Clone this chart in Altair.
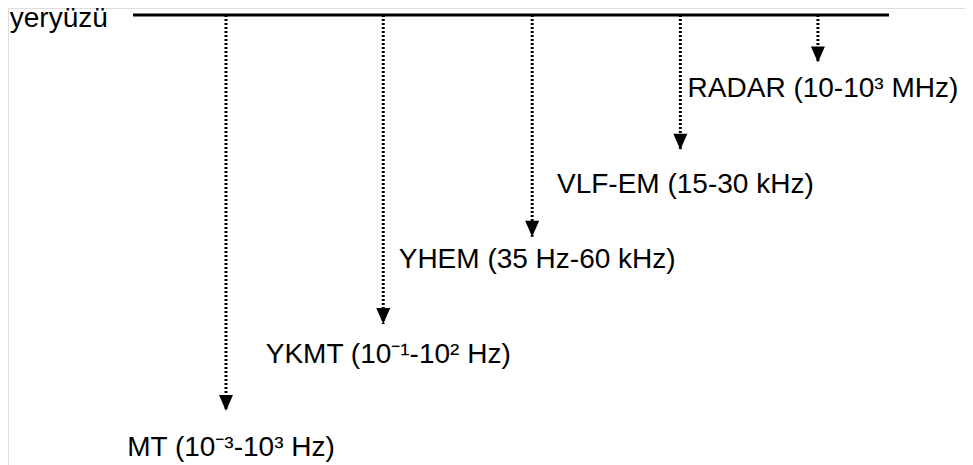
import altair as alt
import pandas as pd

# Methods shown below the ground surface
methods = ["MT", "YKMT", "YHEM", "VLF-EM", "RADAR"]
freq_ranges = ["(10⁻³-10³ Hz)", "(10⁻¹-10² Hz)", "(35 Hz-60 kHz)", "(15-30 kHz)", "(10-10³ MHz)"]
# horizontal position along the surface profile (0-100 %)
positions = [12.3, 33.1, 52.8, 72.4, 90.6]
# relative penetration depth (arrow tip), surface = 0
depths = [5.0, 3.9, 2.8, 1.7, 0.6]
# depth at which each label's baseline sits
label_depths = [5.57, 4.39, 3.19, 2.25, 1.035]

surface_label = "yeryüzü"
surface_extent = [0, 100]

df = pd.DataFrame({
    "method": methods,
    "label": [f"{m} {r}" for m, r in zip(methods, freq_ranges)],
    "pos": positions,
    "depth": depths,
    "label_depth": label_depths,
    "top": [0] * len(methods),
})
surf = pd.DataFrame({"x0": [surface_extent[0]], "x1": [surface_extent[1]], "d": [0],
                     "name": [surface_label], "lx": [-16.3]})

FONT = "Liberation Sans"
FS = 28
xs = alt.Scale(domain=[0, 100], range=[125, 881])
ys = alt.Scale(domain=[0, 5], range=[7, 403])

surface = alt.Chart(surf).mark_rule(color="black", strokeWidth=3).encode(
    x=alt.X("x0:Q", scale=xs, axis=None),
    x2="x1:Q",
    y=alt.Y("d:Q", scale=ys, axis=None),
)
surface_text = alt.Chart(surf).mark_text(
    align="left", baseline="alphabetic", font=FONT, fontSize=FS, color="black", dy=12
).encode(
    x=alt.X("lx:Q", scale=xs, axis=None),
    y=alt.Y("d:Q", scale=ys, axis=None),
    text="name:N",
)

shafts = alt.Chart(df).mark_rule(color="black", strokeWidth=3, strokeDash=[2, 2]).encode(
    x=alt.X("pos:Q", scale=xs, axis=None),
    y=alt.Y("top:Q", scale=ys, axis=None),
    y2="depth:Q",
)
heads = alt.Chart(df).mark_point(
    shape="M-0.875,-1L0.875,-1L0,1Z", size=256, filled=True, color="black", opacity=1, yOffset=-8
).encode(
    x=alt.X("pos:Q", scale=xs, axis=None),
    y=alt.Y("depth:Q", scale=ys, axis=None),
)
labels = alt.Chart(df).mark_text(
    align="center", baseline="alphabetic", font=FONT, fontSize=FS, color="black", dx=5
).encode(
    x=alt.X("pos:Q", scale=xs, axis=None),
    y=alt.Y("label_depth:Q", scale=ys, axis=None),
    text="label:N",
)

chart = alt.layer(surface, surface_text, shafts, heads, labels).properties(
    width=957, height=457, padding=0,
    autosize=alt.AutoSizeParams(type="none"),
).configure_view(stroke=None).configure(background="white")

chart.save("out.html", embed_options={"renderer": "svg", "actions": False})
